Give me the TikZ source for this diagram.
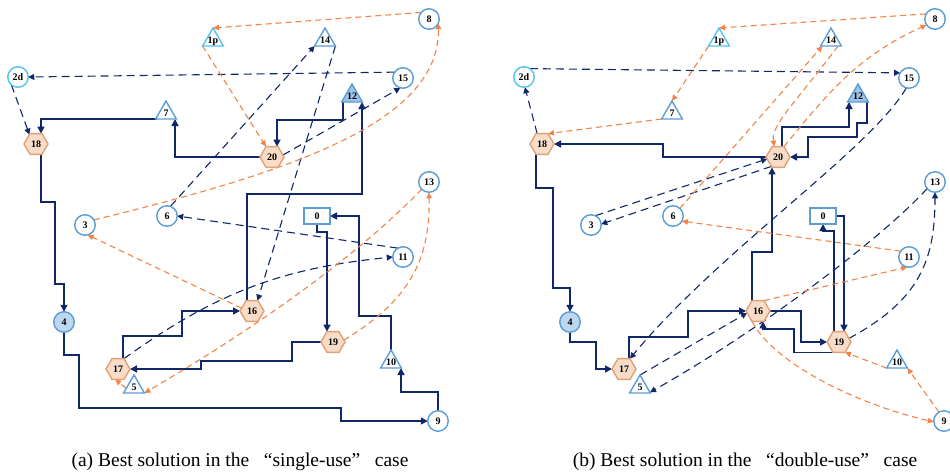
\documentclass[tikz,border=0pt]{standalone}
\usepackage{fontspec}
\setmainfont{Liberation Serif}
\usetikzlibrary{shapes.geometric,arrows.meta}
\definecolor{navy}{RGB}{16,40,104}
\definecolor{orng}{RGB}{243,132,72}
\definecolor{cblue}{RGB}{91,157,213}
\definecolor{ccyan}{RGB}{85,195,240}
\definecolor{hexf}{RGB}{247,221,200}
\definecolor{hexb}{RGB}{226,160,118}
\definecolor{fillfour}{RGB}{189,215,238}
\definecolor{filltwelve}{RGB}{157,195,230}
\pgfdeclarelayer{bg}
\pgfsetlayers{bg,main}
\newcommand\nlab[1]{\makebox[0pt]{\raisebox{-3.3pt}[0pt][0pt]{#1}}}
\newcommand\placenodes[1]{%
 \node[tri,draw=ccyan] (#11p) at (213,40) {\nlab{1p}};
 \node[tri] (#114) at (325,40) {\nlab{14}};
 \node[circ] (#18) at (429,19) {\nlab{8}};
 \node[circ,draw=ccyan] (#12d) at (18,77) {\nlab{2d}};
 \node[circ] (#115) at (403,78) {\nlab{15}};
 \node[tri,fill=filltwelve] (#112) at (352,96) {\nlab{12}};
 \node[tri] (#17) at (166,113) {\nlab{7}};
 \node[hexa] (#118) at (36,144) {\nlab{18}};
 \node[hexa] (#120) at (272,157) {\nlab{20}};
 \node[circ] (#13) at (85,225) {\nlab{3}};
 \node[circ] (#16) at (167,216) {\nlab{6}};
 \node[boxn] (#10) at (317,216) {\nlab{0}};
 \node[circ] (#113) at (429,182) {\nlab{13}};
 \node[circ] (#111) at (403,257) {\nlab{11}};
 \node[hexa] (#116) at (252,311) {\nlab{16}};
 \node[circ,fill=fillfour] (#14) at (64,322) {\nlab{4}};
 \node[hexa] (#119) at (333,342) {\nlab{19}};
 \node[tri] (#110) at (391,362) {\nlab{10}};
 \node[hexa] (#117) at (118,369) {\nlab{17}};
 \node[tri] (#15) at (134,387) {\nlab{5}};
 \node[circ] (#19) at (438,421) {\nlab{9}};
}
\tikzset{
 nd/.style={font=\bfseries\fontsize{10}{10}\selectfont, inner sep=0pt, outer sep=0pt, line width=1.4pt},
 circ/.style={nd, circle, draw=cblue, fill=white, minimum size=20.5pt},
 tri/.style={nd, regular polygon, regular polygon sides=3, draw=cblue, fill=white, minimum size=24pt},
 hexa/.style={nd, regular polygon, regular polygon sides=6, draw=hexb, fill=hexf, minimum size=24pt},
 boxn/.style={nd, rectangle, draw=cblue, fill=white, minimum width=26pt, minimum height=16pt, line width=1.8pt},
 route/.style={draw=navy, line width=1.5pt, -{Triangle[length=7pt,width=7pt]}},
 ndash/.style={draw=navy, line width=1.1pt, dash pattern=on 8pt off 5pt, -{Triangle[length=6pt,width=6pt]}},
 odash/.style={draw=orng, line width=1.1pt, dash pattern=on 6pt off 4pt, -{Triangle[length=6pt,width=5.5pt]}},
 captxt/.style={font=\fontsize{19.5}{21}\selectfont, inner sep=0pt},
}
\begin{document}
\begin{tikzpicture}[x=1pt,y=-1pt]
\useasboundingbox (0,0) rectangle (950,475);
\placenodes{a}
\begin{scope}[xshift=506pt]
\placenodes{b}
\end{scope}
\begin{pgfonlayer}{bg}
% (a) route
\draw[route] (a0.south) |- (327,232) -- (327,0 |- a19.north);
\draw[route] (a19.west) -- (292,342) -- (292,361) -- (201,361) -- (201,369) -- (a17.east);
\draw[route] (123,0 |- a17.north) -- (123,336) -- (182,336) -- (182,311) -- (a16.west);
\draw[route] (247,0 |- a16.north) -- (247,194) -- (362,194) -- (362,0 |- a12.south);
\draw[route] (343,0 |- a12.south) -- (343,120) -- (277,120) -- (277,0 |- a20.north);
\draw[route] (a20.west) -- (175,157) -- (175,0 |- a7.south);
\draw[route] (157,0 |- a7.south) -- (41,0 |- a7.south) -- (41,0 |- a18.north);
\draw[route] (41,0 |- a18.south) -- (41,202) -- (55,202) -- (55,284) -- (64,284) -- (a4.north);
\draw[route] (a4.south) -- (64,355) -- (79,355) -- (79,408) -- (341,408) -- (341,421) -- (a9.west);
\draw[route] (a9.north) -- (438,392) -- (401,392) -- (401,0 |- a10.south);
\draw[route] (a10.north) -- (391,316) -- (359,316) -- (359,216) -- (a0.east);
% (a) navy dashed
\draw[ndash] (a15.145) -- (a2d.east);
\draw[ndash] (a2d.-130) -- (a18.125);
\draw[ndash] (a6.70) -- (a14.210);
\draw[ndash] (a14.-30) -- (a16.62);
\draw[ndash] (a20.10) -- (a15.-105);
\draw[ndash] (a11.120) -- (a6.east);
\draw[ndash] (a17.60) to[bend left=15] (a11.west);
% (a) orange dashed
\draw[odash] (a8.140) -- (a1p.north);
\draw[odash] (a1p.-150) -- (a20.120);
\draw[odash] (a3.30) .. controls (300,170) and (440,120) .. (a8.-25);
\draw[odash] (a16.165) -- (a3.-75);
\draw[odash] (a13.-135) .. controls (345,268) and (235,340) .. (a5.-30);
\draw[odash] (a5.190) -- (a17.-105);
\draw[odash] (a19.10) .. controls (410,300) and (430,260) .. (a13.south);
% (b) route
\draw[route] (b20.west) -- (663,157) -- (663,144) -- (b18.east);
\draw[route] (536,0 |- b18.south) -- (536,188) -- (553,188) -- (553,288) -- (570,288) -- (b4.north);
\draw[route] (b4.south) -- (570,342) -- (596,342) -- (596,369) -- (b17.west);
\draw[route] (629,0 |- b17.north) -- (629,337) -- (688,337) -- (688,311) -- (b16.west);
\draw[route] (752,0 |- b16.north) -- (752,252) -- (772,252) -- (772,0 |- b20.south);
\draw[route] (782,0 |- b20.north) -- (782,127) -- (849,127) -- (849,0 |- b12.south);
\draw[route] (867,0 |- b12.south) -- (867,123) -- (857,123) -- (857,137) -- (808,137) -- (808,157) -- (b20.east);
\draw[route] (b16.east) -- (801,311) -- (801,342) -- (b19.west);
\draw[route] (833,0 |- b19.south) -- (794,0 |- b19.south) -- (794,329) -- (763,329) -- (763,0 |- b16.south);
\draw[route] (834,0 |- b19.north) -- (834,231) -- (823,231) -- (823,0 |- b0.south);
\draw[route] (b0.east) -- (844,216) -- (844,0 |- b19.north);
% (b) navy dashed
\draw[ndash] (b2d.55) -- (b15.150);
\draw[ndash] (b18.115) -- (b2d.-85);
\draw[ndash] (b3.65) -- (b20.-170);
\draw[ndash] (b20.-125) -- (b3.5);
\draw[ndash] (b15.-105) .. controls (870,150) and (720,250) .. (b17.60);
\draw[ndash] (b5.north) -- (b16.-170);
\draw[ndash] (b13.-140) .. controls (880,240) and (760,330) .. (b5.-28);
\draw[ndash] (b19.20) .. controls (920,300) and (935,260) .. (b13.south);
% (b) orange dashed
\draw[odash] (b8.150) -- (b1p.north);
\draw[odash] (b1p.-150) -- (b7.north);
\draw[odash] (b7.-150) -- (b18.60);
\draw[odash] (b6.48) -- (b14.-145);
\draw[odash] (b14.-40) .. controls (795,103) and (771,125) .. (b20.110);
\draw[odash] (b20.60) .. controls (830,90) and (860,55) .. (b8.-145);
\draw[odash] (b11.145) -- (b6.-30);
\draw[odash] (b16.60) -- (b11.-100);
\draw[odash] (b16.-120) .. controls (775,365) and (860,405) .. (b9.185);
\draw[odash] (b9.120) -- (b10.-30);
\draw[odash] (b10.-150) -- (b19.-60);
\end{pgfonlayer}
\node[captxt] (capa) at (240,462) {(a) Best solution in the \hspace{0.5em}“single-use”\hspace{0.5em} case};
\node[captxt] (capb) at (745,462) {(b) Best solution in the \hspace{0.5em}“double-use”\hspace{0.5em} case};
\end{tikzpicture}
\end{document}
